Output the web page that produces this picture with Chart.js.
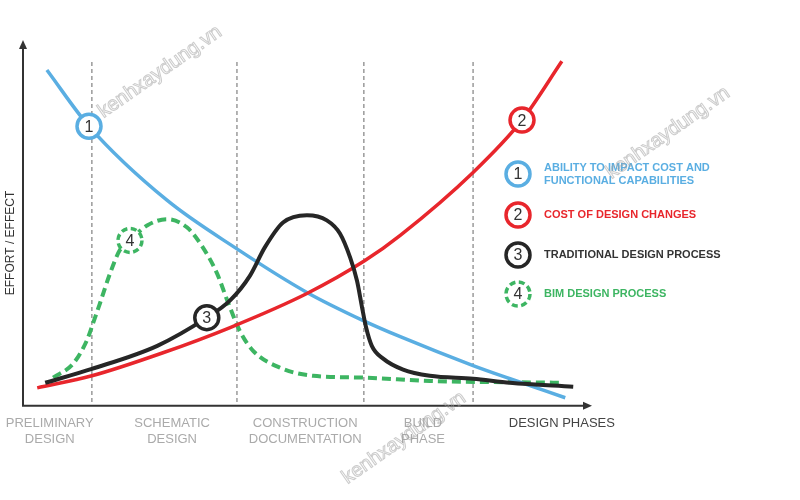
<!DOCTYPE html>
<html>
<head>
<meta charset="utf-8">
<script src="https://cdn.jsdelivr.net/npm/chart.js@4/dist/chart.umd.min.js"></script>
<style>
  html, body { margin: 0; padding: 0; background: #fff; }
</style>
</head>
<body>
<canvas id="chart" width="800" height="500"></canvas>
<script>
/* ------------------------------
   DATA (x: design timeline 0-100, y: effort / effect 0-100)
------------------------------ */
const abilityX = [4.2, 11.6, 25.3, 37.6, 49.9, 59.8, 66.3, 79.1, 85.6, 95.3];
const abilityY = [91.8, 76.4, 56.2, 42.9, 31.0, 23.3, 18.9, 11.0, 7.4, 2.2];

const costX = [2.5, 12.1, 24.6, 36.4, 49.9, 60.1, 66.3, 79.1, 87.7, 94.7];
const costY = [4.9, 8.2, 14.5, 21.4, 30.7, 39.7, 46.6, 63.8, 78.1, 94.2];

const traditionalX = [3.9, 12.1, 23.6, 32.3, 36.4, 39.9, 42.5, 45.7, 49.9, 53.4, 55.7, 57.5, 58.7, 59.6, 60.3, 61.3, 63.3, 66.8, 71.5, 79.1, 85.6, 96.7];
const traditionalY = [6.3, 10.1, 16.4, 24.1, 28.8, 35.6, 43.3, 50.1, 52.1, 50.7, 47.1, 40.5, 34.2, 26.8, 21.4, 16.4, 12.9, 9.9, 8.2, 7.4, 6.3, 5.2];

const bimX = [5.3, 8.8, 11.2, 12.3, 13.5, 15.3, 17.0, 18.8, 21.8, 25.3, 28.8, 31.6, 34.1, 35.9, 38.1, 40.4, 45.2, 51.0, 59.8, 71.5, 94.4];
const bimY = [7.7, 11.5, 17.8, 22.5, 27.9, 36.2, 42.5, 45.2, 49.3, 51.0, 48.8, 43.3, 36.2, 28.8, 20.5, 15.1, 10.4, 8.2, 7.7, 6.8, 6.3];

// numbered markers sitting on each curve: 1 ability, 2 cost, 3 traditional, 4 BIM
const markerX = [11.6, 87.7, 32.3, 18.8];
const markerY = [76.4, 78.1, 24.1, 45.2];

const seriesNames = [
  ["ABILITY TO IMPACT COST AND", "FUNCTIONAL CAPABILITIES"],
  ["COST OF DESIGN CHANGES"],
  ["TRADITIONAL DESIGN PROCESS"],
  ["BIM DESIGN PROCESS"]
];

const phaseBounds = [12.1, 37.6, 59.9, 79.1];
const tickValues = [4.7, 26.2, 49.6, 70.3, 94.7];
const tickLabels = [
  ["PRELIMINARY", "DESIGN"],
  ["SCHEMATIC", "DESIGN"],
  ["CONSTRUCTION", "DOCUMENTATION"],
  ["BUILD", "PHASE"],
  "DESIGN PHASES"
];

/* ------------------------------
   STYLE
------------------------------ */
const BLUE = "#5aaee2";
const RED = "#e8262c";
const DARK = "#262626";
const GREEN = "#3db562";
const seriesColors = [BLUE, RED, DARK, GREEN];
const FONT = "'Liberation Sans', Arial, sans-serif";

const toPoints = (xs, ys) => xs.map((x, i) => ({ x: x, y: ys[i] }));

/* ------------------------------
   DECORATION PLUGIN
------------------------------ */
const decor = {
  id: "decor",
  beforeDatasetsDraw(chart) {
    const { ctx, chartArea, scales: { x, y } } = chart;
    ctx.save();
    // phase separators
    ctx.strokeStyle = "#9a9a9a";
    ctx.lineWidth = 1.5;
    ctx.setLineDash([4, 3]);
    phaseBounds.forEach(v => {
      const px = x.getPixelForValue(v);
      ctx.beginPath();
      ctx.moveTo(px, y.getPixelForValue(94));
      ctx.lineTo(px, chartArea.bottom);
      ctx.stroke();
    });
    ctx.setLineDash([]);

    // axes with arrows
    ctx.strokeStyle = "#333";
    ctx.fillStyle = "#333";
    ctx.lineWidth = 2;
    ctx.beginPath();
    ctx.moveTo(chartArea.left, chartArea.top + 4);
    ctx.lineTo(chartArea.left, chartArea.bottom);
    ctx.lineTo(chartArea.right - 4, chartArea.bottom);
    ctx.stroke();
    ctx.beginPath();
    ctx.moveTo(chartArea.left, chartArea.top);
    ctx.lineTo(chartArea.left - 4, chartArea.top + 9);
    ctx.lineTo(chartArea.left + 4, chartArea.top + 9);
    ctx.closePath();
    ctx.fill();
    ctx.beginPath();
    ctx.moveTo(chartArea.right, chartArea.bottom);
    ctx.lineTo(chartArea.right - 9, chartArea.bottom - 4);
    ctx.lineTo(chartArea.right - 9, chartArea.bottom + 4);
    ctx.closePath();
    ctx.fill();

    // y title
    ctx.save();
    ctx.translate(11, 243);
    ctx.rotate(-Math.PI / 2);
    ctx.font = "12px " + FONT;
    ctx.textAlign = "center";
    ctx.textBaseline = "middle";
    ctx.fillText("EFFORT / EFFECT", 0, 0);
    ctx.restore();
    ctx.restore();
  },
  afterDatasetsDraw(chart) {
    const { ctx, scales: { x, y } } = chart;
    ctx.save();

    const badge = (cx, cy, i) => {
      ctx.beginPath();
      ctx.arc(cx, cy, 12, 0, Math.PI * 2);
      ctx.fillStyle = "#fff";
      ctx.fill();
      ctx.lineWidth = 3.5;
      ctx.strokeStyle = seriesColors[i];
      ctx.setLineDash(i === 3 ? [6, 3.5] : []);
      ctx.stroke();
      ctx.setLineDash([]);
      ctx.fillStyle = "#333";
      ctx.font = "16px " + FONT;
      ctx.textAlign = "center";
      ctx.textBaseline = "middle";
      ctx.fillText(String(i + 1), cx, cy + 1);
    };

    // markers on curves
    markerX.forEach((mx, i) => badge(x.getPixelForValue(mx), y.getPixelForValue(markerY[i]), i));

    // legend
    const legendY = [174, 215, 255, 294];
    seriesNames.forEach((lines, i) => {
      badge(518, legendY[i], i);
      ctx.fillStyle = i === 2 ? "#333" : seriesColors[i];
      ctx.font = "bold 11px " + FONT;
      ctx.textAlign = "left";
      ctx.textBaseline = "middle";
      const start = legendY[i] - (lines.length - 1) * 6.5;
      lines.forEach((t, k) => ctx.fillText(t, 544, start + k * 13));
    });

    // watermarks
    ctx.font = "20px " + FONT;
    ctx.strokeStyle = "rgba(160,160,160,0.55)";
    ctx.lineWidth = 1;
    [[160, 72], [668, 133], [404, 438]].forEach(([wx, wy]) => {
      ctx.save();
      ctx.translate(wx, wy);
      ctx.rotate(-35 * Math.PI / 180);
      ctx.textAlign = "center";
      ctx.textBaseline = "middle";
      ctx.strokeText("kenhxaydung.vn", 0, 0);
      ctx.restore();
    });
    ctx.restore();
  }
};

/* ------------------------------
   CHART
------------------------------ */
const lineStyle = {
  fill: false,
  pointRadius: 0,
  cubicInterpolationMode: "monotone",
  borderCapStyle: "butt"
};

new Chart(document.getElementById("chart"), {
  type: "line",
  data: {
    datasets: [
      { ...lineStyle, label: "Traditional design process", data: toPoints(traditionalX, traditionalY), borderColor: DARK, borderWidth: 4 },
      { ...lineStyle, label: "Cost of design changes", data: toPoints(costX, costY), borderColor: RED, borderWidth: 3.5 },
      { ...lineStyle, label: "Ability to impact cost", data: toPoints(abilityX, abilityY), borderColor: BLUE, borderWidth: 3.5 },
      { ...lineStyle, label: "BIM design process", data: toPoints(bimX, bimY), borderColor: GREEN, borderWidth: 4, borderDash: [9, 5] }
    ]
  },
  options: {
    responsive: false,
    animation: false,
    layout: { padding: { left: 23, right: 208, top: 40, bottom: 43 } },
    plugins: { legend: { display: false }, tooltip: { enabled: false } },
    scales: {
      x: {
        type: "linear",
        min: 0,
        max: 100,
        grid: { display: false, drawTicks: false },
        border: { display: false },
        afterBuildTicks: scale => { scale.ticks = tickValues.map(v => ({ value: v })); },
        afterFit: scale => { scale.paddingLeft = 0; scale.paddingRight = 0; },
        ticks: {
          autoSkip: false,
          maxRotation: 0,
          padding: 10,
          font: { family: FONT, size: 13 },
          color: c => (c.index === tickValues.length - 1 ? "#444" : "#aaa"),
          callback: (v, i) => tickLabels[i]
        }
      },
      y: { type: "linear", min: 0, max: 100, display: false }
    }
  },
  plugins: [decor]
});
</script>
</body>
</html>
